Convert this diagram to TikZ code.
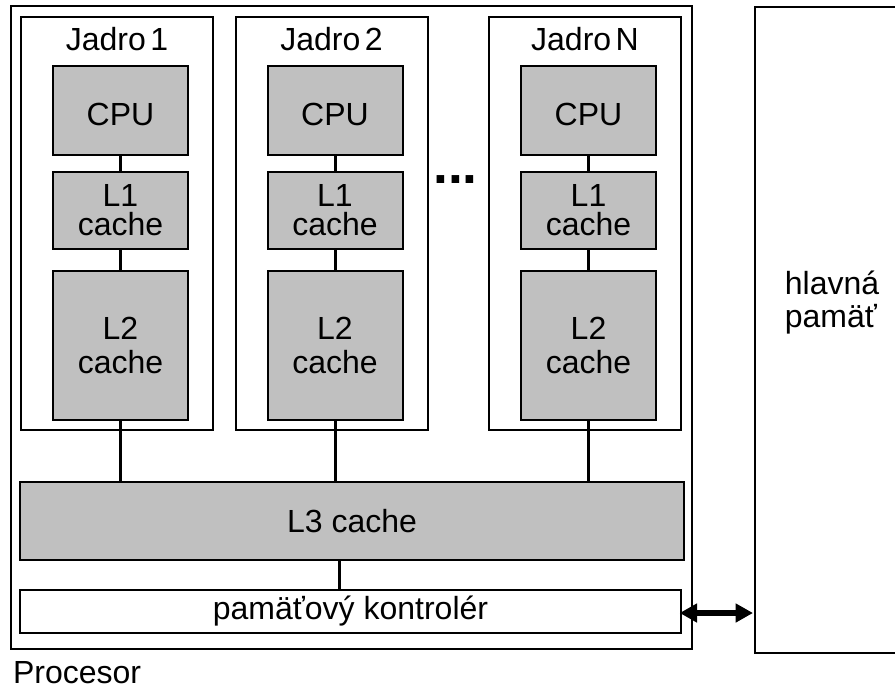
\documentclass[tikz,border=0pt]{standalone}
\usepackage{fontspec}
\setmainfont{Liberation Sans}
\usetikzlibrary{arrows.meta}
\definecolor{cachegrey}{HTML}{C0C0C0}

\begin{document}
\begin{tikzpicture}[x=0.75pt,y=-0.75pt,
  every node/.style={font=\fontsize{24}{28}\selectfont, inner sep=0pt, outer sep=0pt},
  frame/.style={draw, line width=1.5pt},
  unit/.style={draw, line width=1.5pt, fill=cachegrey, minimum width=101.25pt},
  link/.style={line width=2.25pt},
  busarrow/.style={line width=4.5pt, {Triangle[length=13pt,width=13.5pt]}-{Triangle[length=13pt,width=13.5pt]}},
  twoline/.style={align=center, font=\fontsize{24}{#1}\selectfont}]

\clip (0,0) rectangle (895,688);

% processor package
\node[frame, minimum width=510.75pt, minimum height=482.25pt] (proc) at (351.5,327.5) {};
\node[anchor=base west] (proclabel) at (13,683) {Procesor};

% cores: frame, label, CPU, L1 and L2
\foreach \i/\xc in {1/117, 2/331.5, N/585} {
  \node[frame, minimum width=144pt, minimum height=309.75pt] (core\i) at (\xc,223.5) {};
  \node[anchor=base] (corelabel\i) at (\xc,51) {Jadro\hspace{0.14em}\i};
  \node[unit, minimum height=66.75pt, text height=23pt] (cpu\i) at (\xc+3.5,110.5) {CPU};
  \node[unit, minimum height=57.75pt, twoline=21.75pt] (l1\i) at (\xc+3.5,210.5) {L1\\cache};
  \node[unit, minimum height=111.75pt, twoline=25.5pt] (l2\i) at (\xc+3.5,345.5) {L2\\cache};
}

% ellipsis between core 2 and core N
\node[anchor=base, font=\fontsize{40}{40}\selectfont\bfseries] (dots) at (455.5,183) {...};

% shared L3 and memory controller
\node[unit, minimum width=498pt, minimum height=58.5pt] (l3) at (352,521) {L3 cache};
\node[frame, minimum width=495.75pt, minimum height=32.25pt] (ctrl) at (350.5,611.5) {pamäťový kontrolér};

% main memory (runs off the right edge)
\node[minimum width=116.25pt, minimum height=484.5pt] (mem) at (832.5,330) {};
\draw[frame] (mem.north east) -- (mem.north west) -- (mem.south west) -- (mem.south east);
\node[align=left, font=\fontsize{24}{24.75}\selectfont] (memtext) at (832,303) {hlavná\\pamäť};

% connections inside the cores and to L3
\foreach \i in {1, 2, N} {
  \draw[link] (cpu\i.south) -- (l1\i.north);
  \draw[link] (l1\i.south) -- (l2\i.north);
  \draw[link] (l2\i.south) -- (l2\i.south |- l3.north);
}
\draw[link] (l3.south -| 339,0) -- (ctrl.north -| 339,0);

% controller <-> main memory
\draw[busarrow, shorten <=-1pt, shorten >=1.5pt] (ctrl.east |- 0,613) -- (mem.west |- 0,613);
\end{tikzpicture}
\end{document}
